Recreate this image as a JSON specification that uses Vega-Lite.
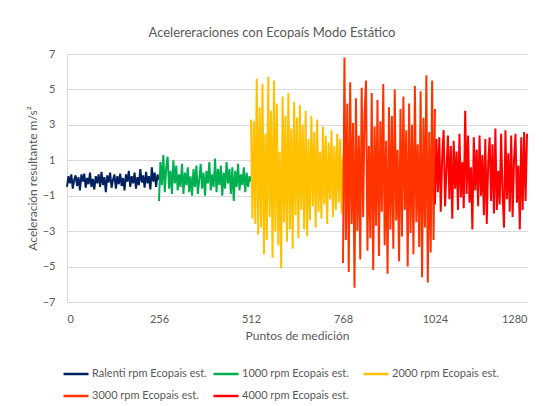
{
  "$schema": "https://vega.github.io/schema/vega-lite/v6.json",
  "width": 460,
  "height": 248,
  "autosize": "none",
  "padding": {"left": 67, "top": 54, "right": 16, "bottom": 104},
  "title": {"text": "Acelereraciones con Ecopaís Modo Estático", "fontSize": 13, "fontWeight": "normal", "color": "#595959", "anchor": "middle", "dx": -25, "offset": 8},
  "data": {"values": [
{"punto":0,"acel":-0.5,"serie":"Ralenti rpm Ecopais est."},{"punto":4,"acel":0.1,"serie":"Ralenti rpm Ecopais est."},{"punto":8,"acel":-0.3,"serie":"Ralenti rpm Ecopais est."},{"punto":12,"acel":0.2,"serie":"Ralenti rpm Ecopais est."},{"punto":16,"acel":-0.6,"serie":"Ralenti rpm Ecopais est."},{"punto":20,"acel":-0.1,"serie":"Ralenti rpm Ecopais est."},{"punto":24,"acel":0.15,"serie":"Ralenti rpm Ecopais est."},{"punto":28,"acel":-0.45,"serie":"Ralenti rpm Ecopais est."},{"punto":32,"acel":0.05,"serie":"Ralenti rpm Ecopais est."},{"punto":36,"acel":-0.7,"serie":"Ralenti rpm Ecopais est."},{"punto":40,"acel":0.2,"serie":"Ralenti rpm Ecopais est."},{"punto":44,"acel":-0.2,"serie":"Ralenti rpm Ecopais est."},{"punto":48,"acel":0.25,"serie":"Ralenti rpm Ecopais est."},{"punto":52,"acel":-0.55,"serie":"Ralenti rpm Ecopais est."},{"punto":56,"acel":0.0,"serie":"Ralenti rpm Ecopais est."},{"punto":60,"acel":-0.35,"serie":"Ralenti rpm Ecopais est."},{"punto":64,"acel":0.3,"serie":"Ralenti rpm Ecopais est."},{"punto":68,"acel":-0.5,"serie":"Ralenti rpm Ecopais est."},{"punto":72,"acel":-0.05,"serie":"Ralenti rpm Ecopais est."},{"punto":76,"acel":-0.65,"serie":"Ralenti rpm Ecopais est."},{"punto":80,"acel":0.1,"serie":"Ralenti rpm Ecopais est."},{"punto":84,"acel":-0.3,"serie":"Ralenti rpm Ecopais est."},{"punto":88,"acel":0.2,"serie":"Ralenti rpm Ecopais est."},{"punto":92,"acel":-0.5,"serie":"Ralenti rpm Ecopais est."},{"punto":96,"acel":0.35,"serie":"Ralenti rpm Ecopais est."},{"punto":100,"acel":-0.4,"serie":"Ralenti rpm Ecopais est."},{"punto":104,"acel":0.05,"serie":"Ralenti rpm Ecopais est."},{"punto":108,"acel":-0.8,"serie":"Ralenti rpm Ecopais est."},{"punto":112,"acel":0.15,"serie":"Ralenti rpm Ecopais est."},{"punto":116,"acel":-0.25,"serie":"Ralenti rpm Ecopais est."},{"punto":120,"acel":0.3,"serie":"Ralenti rpm Ecopais est."},{"punto":124,"acel":-0.55,"serie":"Ralenti rpm Ecopais est."},{"punto":128,"acel":-0.1,"serie":"Ralenti rpm Ecopais est."},{"punto":132,"acel":0.2,"serie":"Ralenti rpm Ecopais est."},{"punto":136,"acel":-0.6,"serie":"Ralenti rpm Ecopais est."},{"punto":140,"acel":0.1,"serie":"Ralenti rpm Ecopais est."},{"punto":144,"acel":-0.35,"serie":"Ralenti rpm Ecopais est."},{"punto":148,"acel":0.25,"serie":"Ralenti rpm Ecopais est."},{"punto":152,"acel":-0.45,"serie":"Ralenti rpm Ecopais est."},{"punto":156,"acel":0.0,"serie":"Ralenti rpm Ecopais est."},{"punto":160,"acel":-0.7,"serie":"Ralenti rpm Ecopais est."},{"punto":164,"acel":0.2,"serie":"Ralenti rpm Ecopais est."},{"punto":168,"acel":-0.2,"serie":"Ralenti rpm Ecopais est."},{"punto":172,"acel":0.4,"serie":"Ralenti rpm Ecopais est."},{"punto":176,"acel":-0.5,"serie":"Ralenti rpm Ecopais est."},{"punto":180,"acel":0.1,"serie":"Ralenti rpm Ecopais est."},{"punto":184,"acel":-0.3,"serie":"Ralenti rpm Ecopais est."},{"punto":188,"acel":0.3,"serie":"Ralenti rpm Ecopais est."},{"punto":192,"acel":-0.6,"serie":"Ralenti rpm Ecopais est."},{"punto":196,"acel":0.05,"serie":"Ralenti rpm Ecopais est."},{"punto":200,"acel":-0.4,"serie":"Ralenti rpm Ecopais est."},{"punto":204,"acel":0.5,"serie":"Ralenti rpm Ecopais est."},{"punto":208,"acel":-0.25,"serie":"Ralenti rpm Ecopais est."},{"punto":212,"acel":0.15,"serie":"Ralenti rpm Ecopais est."},{"punto":216,"acel":-0.55,"serie":"Ralenti rpm Ecopais est."},{"punto":220,"acel":0.35,"serie":"Ralenti rpm Ecopais est."},{"punto":224,"acel":-0.3,"serie":"Ralenti rpm Ecopais est."},{"punto":228,"acel":0.1,"serie":"Ralenti rpm Ecopais est."},{"punto":232,"acel":-0.65,"serie":"Ralenti rpm Ecopais est."},{"punto":236,"acel":0.6,"serie":"Ralenti rpm Ecopais est."},{"punto":240,"acel":-0.2,"serie":"Ralenti rpm Ecopais est."},{"punto":244,"acel":0.3,"serie":"Ralenti rpm Ecopais est."},{"punto":248,"acel":-0.5,"serie":"Ralenti rpm Ecopais est."},{"punto":252,"acel":0.2,"serie":"Ralenti rpm Ecopais est."},{"punto":256,"acel":-0.1,"serie":"Ralenti rpm Ecopais est."},
{"punto":256,"acel":-1.3,"serie":"1000 rpm Ecopais est."},{"punto":260,"acel":0.9,"serie":"1000 rpm Ecopais est."},{"punto":264,"acel":-0.4,"serie":"1000 rpm Ecopais est."},{"punto":268,"acel":1.3,"serie":"1000 rpm Ecopais est."},{"punto":272,"acel":-0.8,"serie":"1000 rpm Ecopais est."},{"punto":276,"acel":0.6,"serie":"1000 rpm Ecopais est."},{"punto":280,"acel":1.2,"serie":"1000 rpm Ecopais est."},{"punto":284,"acel":-0.6,"serie":"1000 rpm Ecopais est."},{"punto":288,"acel":0.4,"serie":"1000 rpm Ecopais est."},{"punto":292,"acel":-0.9,"serie":"1000 rpm Ecopais est."},{"punto":296,"acel":1.0,"serie":"1000 rpm Ecopais est."},{"punto":300,"acel":-0.3,"serie":"1000 rpm Ecopais est."},{"punto":304,"acel":0.7,"serie":"1000 rpm Ecopais est."},{"punto":308,"acel":-0.7,"serie":"1000 rpm Ecopais est."},{"punto":312,"acel":0.2,"serie":"1000 rpm Ecopais est."},{"punto":316,"acel":-0.5,"serie":"1000 rpm Ecopais est."},{"punto":320,"acel":0.8,"serie":"1000 rpm Ecopais est."},{"punto":324,"acel":-0.9,"serie":"1000 rpm Ecopais est."},{"punto":328,"acel":0.3,"serie":"1000 rpm Ecopais est."},{"punto":332,"acel":-0.4,"serie":"1000 rpm Ecopais est."},{"punto":336,"acel":0.6,"serie":"1000 rpm Ecopais est."},{"punto":340,"acel":-0.8,"serie":"1000 rpm Ecopais est."},{"punto":344,"acel":0.1,"serie":"1000 rpm Ecopais est."},{"punto":348,"acel":-1.0,"serie":"1000 rpm Ecopais est."},{"punto":352,"acel":0.5,"serie":"1000 rpm Ecopais est."},{"punto":356,"acel":-0.5,"serie":"1000 rpm Ecopais est."},{"punto":360,"acel":0.7,"serie":"1000 rpm Ecopais est."},{"punto":364,"acel":-0.9,"serie":"1000 rpm Ecopais est."},{"punto":368,"acel":-0.1,"serie":"1000 rpm Ecopais est."},{"punto":372,"acel":0.8,"serie":"1000 rpm Ecopais est."},{"punto":376,"acel":-0.6,"serie":"1000 rpm Ecopais est."},{"punto":380,"acel":0.3,"serie":"1000 rpm Ecopais est."},{"punto":384,"acel":-1.0,"serie":"1000 rpm Ecopais est."},{"punto":388,"acel":0.4,"serie":"1000 rpm Ecopais est."},{"punto":392,"acel":-0.3,"serie":"1000 rpm Ecopais est."},{"punto":396,"acel":0.9,"serie":"1000 rpm Ecopais est."},{"punto":400,"acel":-0.7,"serie":"1000 rpm Ecopais est."},{"punto":404,"acel":0.2,"serie":"1000 rpm Ecopais est."},{"punto":408,"acel":-0.5,"serie":"1000 rpm Ecopais est."},{"punto":412,"acel":1.1,"serie":"1000 rpm Ecopais est."},{"punto":416,"acel":-0.8,"serie":"1000 rpm Ecopais est."},{"punto":420,"acel":0.5,"serie":"1000 rpm Ecopais est."},{"punto":424,"acel":-0.4,"serie":"1000 rpm Ecopais est."},{"punto":428,"acel":0.7,"serie":"1000 rpm Ecopais est."},{"punto":432,"acel":-1.0,"serie":"1000 rpm Ecopais est."},{"punto":436,"acel":0.3,"serie":"1000 rpm Ecopais est."},{"punto":440,"acel":-0.6,"serie":"1000 rpm Ecopais est."},{"punto":444,"acel":0.9,"serie":"1000 rpm Ecopais est."},{"punto":448,"acel":-0.3,"serie":"1000 rpm Ecopais est."},{"punto":452,"acel":0.5,"serie":"1000 rpm Ecopais est."},{"punto":456,"acel":-0.9,"serie":"1000 rpm Ecopais est."},{"punto":460,"acel":0.6,"serie":"1000 rpm Ecopais est."},{"punto":464,"acel":-1.3,"serie":"1000 rpm Ecopais est."},{"punto":468,"acel":0.4,"serie":"1000 rpm Ecopais est."},{"punto":472,"acel":-0.5,"serie":"1000 rpm Ecopais est."},{"punto":476,"acel":0.8,"serie":"1000 rpm Ecopais est."},{"punto":480,"acel":-0.7,"serie":"1000 rpm Ecopais est."},{"punto":484,"acel":0.2,"serie":"1000 rpm Ecopais est."},{"punto":488,"acel":-0.4,"serie":"1000 rpm Ecopais est."},{"punto":492,"acel":0.6,"serie":"1000 rpm Ecopais est."},{"punto":496,"acel":-0.8,"serie":"1000 rpm Ecopais est."},{"punto":500,"acel":0.3,"serie":"1000 rpm Ecopais est."},{"punto":504,"acel":-0.5,"serie":"1000 rpm Ecopais est."},{"punto":508,"acel":0.1,"serie":"1000 rpm Ecopais est."},{"punto":512,"acel":-0.2,"serie":"1000 rpm Ecopais est."},
{"punto":512,"acel":3.3,"serie":"2000 rpm Ecopais est."},{"punto":516,"acel":-2.3,"serie":"2000 rpm Ecopais est."},{"punto":520,"acel":3.2,"serie":"2000 rpm Ecopais est."},{"punto":524,"acel":-2.6,"serie":"2000 rpm Ecopais est."},{"punto":528,"acel":5.6,"serie":"2000 rpm Ecopais est."},{"punto":532,"acel":-3.2,"serie":"2000 rpm Ecopais est."},{"punto":536,"acel":4.0,"serie":"2000 rpm Ecopais est."},{"punto":540,"acel":-2.8,"serie":"2000 rpm Ecopais est."},{"punto":544,"acel":5.3,"serie":"2000 rpm Ecopais est."},{"punto":548,"acel":-4.3,"serie":"2000 rpm Ecopais est."},{"punto":552,"acel":2.5,"serie":"2000 rpm Ecopais est."},{"punto":556,"acel":-3.5,"serie":"2000 rpm Ecopais est."},{"punto":560,"acel":5.7,"serie":"2000 rpm Ecopais est."},{"punto":564,"acel":-2.2,"serie":"2000 rpm Ecopais est."},{"punto":568,"acel":3.8,"serie":"2000 rpm Ecopais est."},{"punto":572,"acel":-4.5,"serie":"2000 rpm Ecopais est."},{"punto":576,"acel":5.5,"serie":"2000 rpm Ecopais est."},{"punto":580,"acel":-3.0,"serie":"2000 rpm Ecopais est."},{"punto":584,"acel":4.2,"serie":"2000 rpm Ecopais est."},{"punto":588,"acel":-3.8,"serie":"2000 rpm Ecopais est."},{"punto":592,"acel":1.5,"serie":"2000 rpm Ecopais est."},{"punto":596,"acel":-5.1,"serie":"2000 rpm Ecopais est."},{"punto":600,"acel":4.6,"serie":"2000 rpm Ecopais est."},{"punto":604,"acel":-2.5,"serie":"2000 rpm Ecopais est."},{"punto":608,"acel":3.5,"serie":"2000 rpm Ecopais est."},{"punto":612,"acel":-3.6,"serie":"2000 rpm Ecopais est."},{"punto":616,"acel":4.8,"serie":"2000 rpm Ecopais est."},{"punto":620,"acel":-2.9,"serie":"2000 rpm Ecopais est."},{"punto":624,"acel":2.8,"serie":"2000 rpm Ecopais est."},{"punto":628,"acel":-4.0,"serie":"2000 rpm Ecopais est."},{"punto":632,"acel":4.3,"serie":"2000 rpm Ecopais est."},{"punto":636,"acel":-2.1,"serie":"2000 rpm Ecopais est."},{"punto":640,"acel":3.4,"serie":"2000 rpm Ecopais est."},{"punto":644,"acel":-3.4,"serie":"2000 rpm Ecopais est."},{"punto":648,"acel":4.1,"serie":"2000 rpm Ecopais est."},{"punto":652,"acel":-1.8,"serie":"2000 rpm Ecopais est."},{"punto":656,"acel":3.0,"serie":"2000 rpm Ecopais est."},{"punto":660,"acel":-2.9,"serie":"2000 rpm Ecopais est."},{"punto":664,"acel":3.8,"serie":"2000 rpm Ecopais est."},{"punto":668,"acel":-3.3,"serie":"2000 rpm Ecopais est."},{"punto":672,"acel":2.2,"serie":"2000 rpm Ecopais est."},{"punto":676,"acel":-2.4,"serie":"2000 rpm Ecopais est."},{"punto":680,"acel":3.5,"serie":"2000 rpm Ecopais est."},{"punto":684,"acel":-1.6,"serie":"2000 rpm Ecopais est."},{"punto":688,"acel":2.6,"serie":"2000 rpm Ecopais est."},{"punto":692,"acel":-2.8,"serie":"2000 rpm Ecopais est."},{"punto":696,"acel":3.3,"serie":"2000 rpm Ecopais est."},{"punto":700,"acel":-1.9,"serie":"2000 rpm Ecopais est."},{"punto":704,"acel":1.5,"serie":"2000 rpm Ecopais est."},{"punto":708,"acel":-2.3,"serie":"2000 rpm Ecopais est."},{"punto":712,"acel":2.9,"serie":"2000 rpm Ecopais est."},{"punto":716,"acel":-1.5,"serie":"2000 rpm Ecopais est."},{"punto":720,"acel":2.4,"serie":"2000 rpm Ecopais est."},{"punto":724,"acel":-2.6,"serie":"2000 rpm Ecopais est."},{"punto":728,"acel":2.0,"serie":"2000 rpm Ecopais est."},{"punto":732,"acel":-1.2,"serie":"2000 rpm Ecopais est."},{"punto":736,"acel":2.7,"serie":"2000 rpm Ecopais est."},{"punto":740,"acel":-2.2,"serie":"2000 rpm Ecopais est."},{"punto":744,"acel":1.8,"serie":"2000 rpm Ecopais est."},{"punto":748,"acel":-1.8,"serie":"2000 rpm Ecopais est."},{"punto":752,"acel":2.5,"serie":"2000 rpm Ecopais est."},{"punto":756,"acel":-1.4,"serie":"2000 rpm Ecopais est."},{"punto":760,"acel":2.2,"serie":"2000 rpm Ecopais est."},{"punto":764,"acel":-2.0,"serie":"2000 rpm Ecopais est."},{"punto":768,"acel":1.2,"serie":"2000 rpm Ecopais est."},
{"punto":768,"acel":-4.8,"serie":"3000 rpm Ecopais est."},{"punto":772,"acel":6.8,"serie":"3000 rpm Ecopais est."},{"punto":776,"acel":-3.5,"serie":"3000 rpm Ecopais est."},{"punto":780,"acel":4.2,"serie":"3000 rpm Ecopais est."},{"punto":784,"acel":-5.3,"serie":"3000 rpm Ecopais est."},{"punto":788,"acel":5.4,"serie":"3000 rpm Ecopais est."},{"punto":792,"acel":-2.6,"serie":"3000 rpm Ecopais est."},{"punto":796,"acel":3.1,"serie":"3000 rpm Ecopais est."},{"punto":800,"acel":-6.2,"serie":"3000 rpm Ecopais est."},{"punto":804,"acel":4.5,"serie":"3000 rpm Ecopais est."},{"punto":808,"acel":-3.0,"serie":"3000 rpm Ecopais est."},{"punto":812,"acel":2.4,"serie":"3000 rpm Ecopais est."},{"punto":816,"acel":-4.6,"serie":"3000 rpm Ecopais est."},{"punto":820,"acel":5.1,"serie":"3000 rpm Ecopais est."},{"punto":824,"acel":-2.2,"serie":"3000 rpm Ecopais est."},{"punto":828,"acel":3.6,"serie":"3000 rpm Ecopais est."},{"punto":832,"acel":5.5,"serie":"3000 rpm Ecopais est."},{"punto":836,"acel":-4.1,"serie":"3000 rpm Ecopais est."},{"punto":840,"acel":1.8,"serie":"3000 rpm Ecopais est."},{"punto":844,"acel":-3.4,"serie":"3000 rpm Ecopais est."},{"punto":848,"acel":4.8,"serie":"3000 rpm Ecopais est."},{"punto":852,"acel":-5.2,"serie":"3000 rpm Ecopais est."},{"punto":856,"acel":2.9,"serie":"3000 rpm Ecopais est."},{"punto":860,"acel":-2.7,"serie":"3000 rpm Ecopais est."},{"punto":864,"acel":4.4,"serie":"3000 rpm Ecopais est."},{"punto":868,"acel":-4.4,"serie":"3000 rpm Ecopais est."},{"punto":872,"acel":3.2,"serie":"3000 rpm Ecopais est."},{"punto":876,"acel":-1.9,"serie":"3000 rpm Ecopais est."},{"punto":880,"acel":5.3,"serie":"3000 rpm Ecopais est."},{"punto":884,"acel":-3.8,"serie":"3000 rpm Ecopais est."},{"punto":888,"acel":2.1,"serie":"3000 rpm Ecopais est."},{"punto":892,"acel":-5.4,"serie":"3000 rpm Ecopais est."},{"punto":896,"acel":4.0,"serie":"3000 rpm Ecopais est."},{"punto":900,"acel":-2.9,"serie":"3000 rpm Ecopais est."},{"punto":904,"acel":3.5,"serie":"3000 rpm Ecopais est."},{"punto":908,"acel":-4.0,"serie":"3000 rpm Ecopais est."},{"punto":912,"acel":5.0,"serie":"3000 rpm Ecopais est."},{"punto":916,"acel":-2.4,"serie":"3000 rpm Ecopais est."},{"punto":920,"acel":1.6,"serie":"3000 rpm Ecopais est."},{"punto":924,"acel":-4.7,"serie":"3000 rpm Ecopais est."},{"punto":928,"acel":3.9,"serie":"3000 rpm Ecopais est."},{"punto":932,"acel":-3.3,"serie":"3000 rpm Ecopais est."},{"punto":936,"acel":4.6,"serie":"3000 rpm Ecopais est."},{"punto":940,"acel":-1.8,"serie":"3000 rpm Ecopais est."},{"punto":944,"acel":2.7,"serie":"3000 rpm Ecopais est."},{"punto":948,"acel":-5.0,"serie":"3000 rpm Ecopais est."},{"punto":952,"acel":4.2,"serie":"3000 rpm Ecopais est."},{"punto":956,"acel":-3.1,"serie":"3000 rpm Ecopais est."},{"punto":960,"acel":3.0,"serie":"3000 rpm Ecopais est."},{"punto":964,"acel":-4.3,"serie":"3000 rpm Ecopais est."},{"punto":968,"acel":5.2,"serie":"3000 rpm Ecopais est."},{"punto":972,"acel":-2.5,"serie":"3000 rpm Ecopais est."},{"punto":976,"acel":1.9,"serie":"3000 rpm Ecopais est."},{"punto":980,"acel":-3.9,"serie":"3000 rpm Ecopais est."},{"punto":984,"acel":4.9,"serie":"3000 rpm Ecopais est."},{"punto":988,"acel":-5.6,"serie":"3000 rpm Ecopais est."},{"punto":992,"acel":3.4,"serie":"3000 rpm Ecopais est."},{"punto":996,"acel":-2.8,"serie":"3000 rpm Ecopais est."},{"punto":1000,"acel":5.8,"serie":"3000 rpm Ecopais est."},{"punto":1004,"acel":-5.9,"serie":"3000 rpm Ecopais est."},{"punto":1008,"acel":2.6,"serie":"3000 rpm Ecopais est."},{"punto":1012,"acel":-4.2,"serie":"3000 rpm Ecopais est."},{"punto":1016,"acel":5.5,"serie":"3000 rpm Ecopais est."},{"punto":1020,"acel":-3.5,"serie":"3000 rpm Ecopais est."},{"punto":1024,"acel":3.9,"serie":"3000 rpm Ecopais est."},
{"punto":1024,"acel":-1.5,"serie":"4000 rpm Ecopais  est."},{"punto":1028,"acel":2.2,"serie":"4000 rpm Ecopais  est."},{"punto":1032,"acel":-0.8,"serie":"4000 rpm Ecopais  est."},{"punto":1036,"acel":2.3,"serie":"4000 rpm Ecopais  est."},{"punto":1040,"acel":-1.9,"serie":"4000 rpm Ecopais  est."},{"punto":1044,"acel":1.2,"serie":"4000 rpm Ecopais  est."},{"punto":1048,"acel":2.7,"serie":"4000 rpm Ecopais  est."},{"punto":1052,"acel":-1.6,"serie":"4000 rpm Ecopais  est."},{"punto":1056,"acel":0.5,"serie":"4000 rpm Ecopais  est."},{"punto":1060,"acel":2.4,"serie":"4000 rpm Ecopais  est."},{"punto":1064,"acel":-1.2,"serie":"4000 rpm Ecopais  est."},{"punto":1068,"acel":1.8,"serie":"4000 rpm Ecopais  est."},{"punto":1072,"acel":-2.3,"serie":"4000 rpm Ecopais  est."},{"punto":1076,"acel":2.1,"serie":"4000 rpm Ecopais  est."},{"punto":1080,"acel":-0.6,"serie":"4000 rpm Ecopais  est."},{"punto":1084,"acel":1.5,"serie":"4000 rpm Ecopais  est."},{"punto":1088,"acel":-1.8,"serie":"4000 rpm Ecopais  est."},{"punto":1092,"acel":2.5,"serie":"4000 rpm Ecopais  est."},{"punto":1096,"acel":-1.1,"serie":"4000 rpm Ecopais  est."},{"punto":1100,"acel":0.9,"serie":"4000 rpm Ecopais  est."},{"punto":1104,"acel":-1.7,"serie":"4000 rpm Ecopais  est."},{"punto":1108,"acel":3.8,"serie":"4000 rpm Ecopais  est."},{"punto":1112,"acel":-0.9,"serie":"4000 rpm Ecopais  est."},{"punto":1116,"acel":2.4,"serie":"4000 rpm Ecopais  est."},{"punto":1120,"acel":-1.4,"serie":"4000 rpm Ecopais  est."},{"punto":1124,"acel":0.6,"serie":"4000 rpm Ecopais  est."},{"punto":1128,"acel":-2.9,"serie":"4000 rpm Ecopais  est."},{"punto":1132,"acel":2.3,"serie":"4000 rpm Ecopais  est."},{"punto":1136,"acel":-0.7,"serie":"4000 rpm Ecopais  est."},{"punto":1140,"acel":1.6,"serie":"4000 rpm Ecopais  est."},{"punto":1144,"acel":-1.6,"serie":"4000 rpm Ecopais  est."},{"punto":1148,"acel":2.4,"serie":"4000 rpm Ecopais  est."},{"punto":1152,"acel":-1.0,"serie":"4000 rpm Ecopais  est."},{"punto":1156,"acel":1.3,"serie":"4000 rpm Ecopais  est."},{"punto":1160,"acel":-2.1,"serie":"4000 rpm Ecopais  est."},{"punto":1164,"acel":2.2,"serie":"4000 rpm Ecopais  est."},{"punto":1168,"acel":-2.6,"serie":"4000 rpm Ecopais  est."},{"punto":1172,"acel":0.8,"serie":"4000 rpm Ecopais  est."},{"punto":1176,"acel":2.3,"serie":"4000 rpm Ecopais  est."},{"punto":1180,"acel":-1.3,"serie":"4000 rpm Ecopais  est."},{"punto":1184,"acel":1.9,"serie":"4000 rpm Ecopais  est."},{"punto":1188,"acel":-2.0,"serie":"4000 rpm Ecopais  est."},{"punto":1192,"acel":2.8,"serie":"4000 rpm Ecopais  est."},{"punto":1196,"acel":-1.8,"serie":"4000 rpm Ecopais  est."},{"punto":1200,"acel":0.4,"serie":"4000 rpm Ecopais  est."},{"punto":1204,"acel":-1.5,"serie":"4000 rpm Ecopais  est."},{"punto":1208,"acel":2.5,"serie":"4000 rpm Ecopais  est."},{"punto":1212,"acel":-0.9,"serie":"4000 rpm Ecopais  est."},{"punto":1216,"acel":-2.8,"serie":"4000 rpm Ecopais  est."},{"punto":1220,"acel":2.7,"serie":"4000 rpm Ecopais  est."},{"punto":1224,"acel":-1.2,"serie":"4000 rpm Ecopais  est."},{"punto":1228,"acel":1.4,"serie":"4000 rpm Ecopais  est."},{"punto":1232,"acel":-1.9,"serie":"4000 rpm Ecopais  est."},{"punto":1236,"acel":2.4,"serie":"4000 rpm Ecopais  est."},{"punto":1240,"acel":-2.2,"serie":"4000 rpm Ecopais  est."},{"punto":1244,"acel":1.1,"serie":"4000 rpm Ecopais  est."},{"punto":1248,"acel":2.5,"serie":"4000 rpm Ecopais  est."},{"punto":1252,"acel":-1.4,"serie":"4000 rpm Ecopais  est."},{"punto":1256,"acel":0.7,"serie":"4000 rpm Ecopais  est."},{"punto":1260,"acel":-2.9,"serie":"4000 rpm Ecopais  est."},{"punto":1264,"acel":2.3,"serie":"4000 rpm Ecopais  est."},{"punto":1268,"acel":-1.8,"serie":"4000 rpm Ecopais  est."},{"punto":1272,"acel":2.6,"serie":"4000 rpm Ecopais  est."},{"punto":1276,"acel":-1.3,"serie":"4000 rpm Ecopais  est."},{"punto":1280,"acel":2.5,"serie":"4000 rpm Ecopais  est."}
  ]},
  "mark": {"type": "line", "strokeWidth": 2, "strokeJoin": "miter", "interpolate": "linear"},
  "encoding": {
    "x": {"field": "punto", "type": "quantitative", "scale": {"domain": [0, 1280], "nice": false}, "axis": {"values": [0, 256, 512, 768, 1024, 1280], "format": "d", "title": "Puntos de medición", "grid": false, "domain": false, "ticks": false, "labelPadding": 11, "titlePadding": 6}},
    "y": {"field": "acel", "type": "quantitative", "scale": {"domain": [-7, 7], "nice": false}, "axis": {"values": [-7, -5, -3, -1, 1, 3, 5, 7], "title": "Aceleración resultante m/s²", "grid": true, "domain": true, "ticks": false, "labelPadding": 12, "titlePadding": 3}},
    "color": {"field": "serie", "type": "nominal", "sort": null,
      "scale": {"domain": ["Ralenti rpm Ecopais est.", "1000 rpm Ecopais est.", "2000 rpm Ecopais est.", "3000 rpm Ecopais est.", "4000 rpm Ecopais  est."], "range": ["#002060", "#00B050", "#FFC000", "#FF3300", "#FF0000"]},
      "legend": {"title": null, "orient": "none", "legendX": -5, "legendY": 306, "direction": "horizontal", "columns": 3, "gridAlign": "all", "symbolType": "stroke", "symbolSize": 625, "symbolStrokeWidth": 2.5, "labelOffset": 2, "columnPadding": 1, "rowPadding": 3, "labelFontSize": 11, "labelColor": "#595959"}}
  },
  "config": {
    "font": "Lato",
    "view": {"stroke": null},
    "axis": {"labelColor": "#595959", "labelFontSize": 11, "titleColor": "#595959", "titleFontSize": 12, "titleFontWeight": "normal", "gridColor": "#D9D9D9", "domainColor": "#D9D9D9", "gridWidth": 1}
  }
}
